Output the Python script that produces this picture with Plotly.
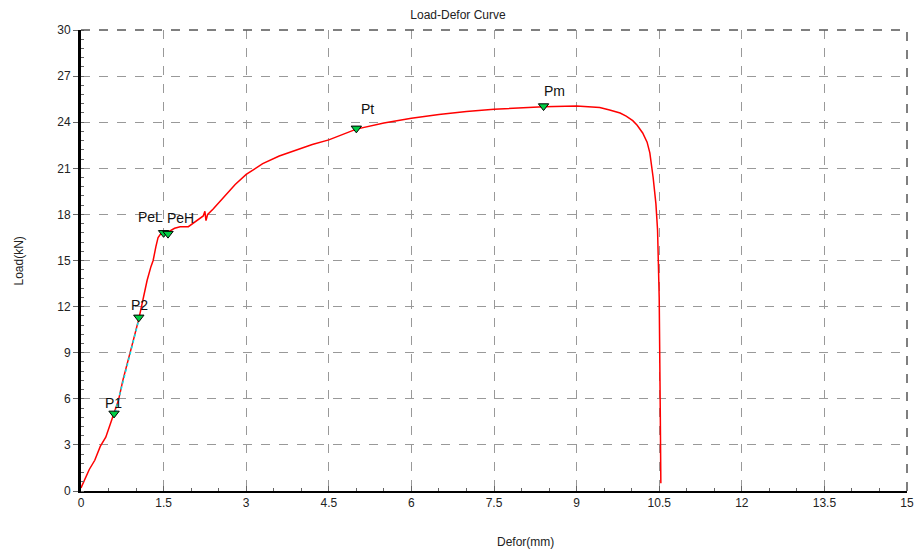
import plotly.graph_objects as go

# Curve data (Defor mm, Load kN)
defor = [0, 0.05, 0.15, 0.25, 0.35, 0.45, 0.58, 0.68, 0.76, 0.86, 0.95, 1.05, 1.13, 1.2, 1.27,
         1.31, 1.36, 1.40, 1.45, 1.53, 1.6, 1.7, 1.8, 1.95, 2.05, 2.15, 2.22, 2.25, 2.27, 2.3,
         2.4, 2.6, 2.8, 3.0, 3.3, 3.6, 3.9, 4.2, 4.5, 5.0, 5.5, 6.0, 6.5, 7.0, 7.5, 8.0, 8.4,
         9.0, 9.42, 9.6, 9.79, 9.9, 10.02, 10.1, 10.2, 10.28, 10.33, 10.39, 10.44, 10.47,
         10.48, 10.5, 10.52, 10.53]
load = [0.2, 0.6, 1.4, 2.0, 2.9, 3.5, 4.8, 5.9, 7.2, 8.5, 9.8, 11.2, 12.6, 13.7, 14.6,
        15.0, 15.9, 16.5, 16.75, 16.85, 16.9, 17.1, 17.2, 17.2, 17.45, 17.7, 17.9, 18.2, 17.6, 18.0,
        18.35, 19.15, 19.95, 20.6, 21.3, 21.8, 22.2, 22.55, 22.85, 23.55, 23.95, 24.25, 24.5, 24.7, 24.85, 24.95, 25.0,
        25.05, 24.95, 24.8, 24.6, 24.4, 24.1, 23.8, 23.3, 22.7, 22.0, 20.4, 18.7, 17.0,
        15.0, 12.6, 5.0, 0.5]

# Characteristic points
pt_names = ["P1", "P2", "PeL", "PeH", "Pt", "Pm"]
pt_x = [0.6, 1.05, 1.5, 1.58, 5.0, 8.4]
pt_y = [5.05, 11.3, 16.8, 16.75, 23.6, 25.05]

# Fit line between P1 and P2
fit_x = [0.62, 1.04]
fit_y = [5.1, 11.0]

x_ticks = [0, 1.5, 3, 4.5, 6, 7.5, 9, 10.5, 12, 13.5, 15]
x_ticktext = ["0", "1.5", "3", "4.5", "6", "7.5", "9", "10.5", "12", "13.5", "15"]
y_ticks = [0, 3, 6, 9, 12, 15, 18, 21, 24, 27, 30]

label_shift = {"P1": (-11, 0), "P2": (-10, 2), "PeL": (-28, 6), "PeH": (-3, 6), "Pt": (3, 9), "Pm": (-2, 5)}

fig = go.Figure()
fig.add_trace(go.Scatter(x=defor, y=load, mode="lines",
                         line=dict(color="#ff0000", width=1.5), showlegend=False, hoverinfo="skip"))
fig.add_trace(go.Scatter(x=fit_x, y=fit_y, mode="lines",
                         line=dict(color="#00e5ee", width=1.5, dash="dot"), showlegend=False))
fig.add_trace(go.Scatter(x=pt_x, y=pt_y, mode="markers",
                         marker=dict(symbol="triangle-down", size=9, color="#00cc44",
                                     line=dict(color="black", width=1)),
                         showlegend=False))

for n, xv, yv in zip(pt_names, pt_x, pt_y):
    dx, dy = label_shift[n]
    fig.add_annotation(x=xv, y=yv, text=n, showarrow=False, xanchor="left", yanchor="bottom",
                       xshift=dx, yshift=dy, font=dict(family="Liberation Sans", size=14, color="#111111"))

axis_font = dict(family="Liberation Sans", size=12, color="#222222")

fig.add_annotation(x=494 / 917, y=-51 / 461, xref="paper", yref="paper", text="Defor(mm)",
                   showarrow=False, xanchor="center", yanchor="middle", font=axis_font)
fig.add_annotation(x=-63 / 826, y=0.5, xref="paper", yref="paper", text="Load(kN)",
                   showarrow=False, xanchor="center", yanchor="middle", textangle=-90, font=axis_font)

fig.update_layout(
    width=917, height=552,
    margin=dict(l=81, r=10, t=30, b=61),
    paper_bgcolor="white", plot_bgcolor="white",
    title=dict(text="Load-Defor Curve", x=458 / 917, xanchor="center", y=1 - 15 / 552, yanchor="middle",
               font=dict(family="Liberation Sans", size=12, color="#222222")),
    xaxis=dict(range=[0, 15], tickvals=x_ticks, ticktext=x_ticktext, showgrid=True,
               gridcolor="#999999", griddash="dash", gridwidth=1,
               showline=True, linecolor="black", linewidth=2, mirror=False,
               ticks="inside", ticklen=5, tickcolor="#666666", zeroline=False, automargin=False,
               minor=dict(dtick=0.5, ticks="inside", ticklen=3, tickcolor="#666666", showgrid=False),
               tickfont=axis_font),
    yaxis=dict(range=[0, 30], tickvals=y_ticks, showgrid=True,
               gridcolor="#999999", griddash="dash", gridwidth=1,
               showline=True, linecolor="black", linewidth=3, mirror=False,
               ticks="outside", ticklen=5, tickcolor="#666666", zeroline=False, automargin=False,
               minor=dict(dtick=0.6, ticks="inside", ticklen=3, tickcolor="#666666", showgrid=False),
               tickfont=axis_font),
    shapes=[
        dict(type="line", xref="paper", yref="paper", x0=0, x1=1, y0=1, y1=1,
             line=dict(color="#555555", width=1.5, dash="dash")),
        dict(type="line", xref="paper", yref="paper", x0=1, x1=1, y0=0, y1=1,
             line=dict(color="#555555", width=1.5, dash="dash")),
    ],
)

fig.write_html("out.html")
